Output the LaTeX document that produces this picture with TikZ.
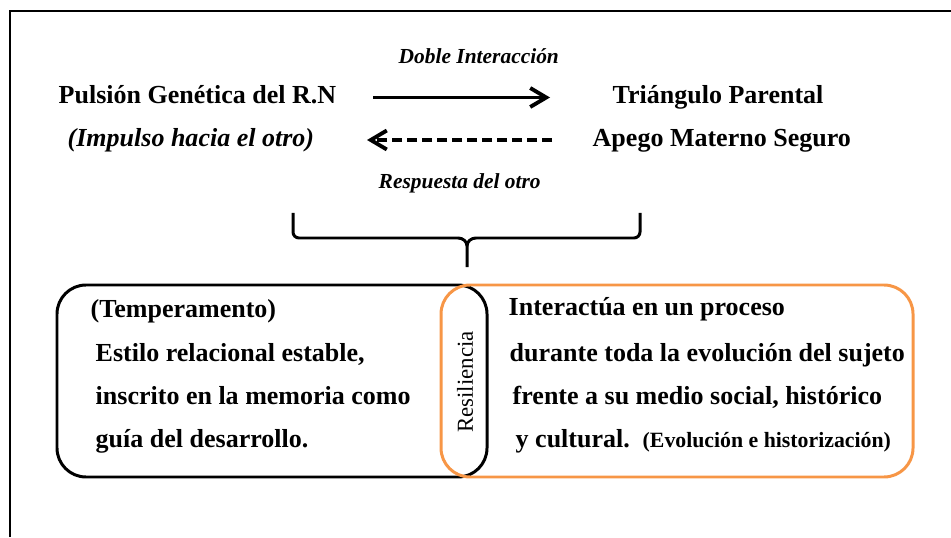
\documentclass[tikz,border=0pt]{standalone}
\usepackage{fontspec}
\setmainfont{Liberation Serif}
\usetikzlibrary{arrows.meta}

\definecolor{naranja}{HTML}{F79646}

\begin{document}
\begin{tikzpicture}[
  txt/.style={anchor=base west,inner sep=0pt,font=\fontsize{7.4}{9}\selectfont\bfseries},
  itxt/.style={txt,font=\fontsize{7.4}{9}\selectfont\bfseries\itshape},
  stxt/.style={txt,font=\fontsize{6.1}{8}\selectfont\bfseries\itshape},
  arr/.style={line width=1.1pt,-{Straight Barb[length=0.16cm,width=0.19cm]}},
  caja/.style={line width=0.85pt,rounded corners=0.29cm}
]
\useasboundingbox (0,0) rectangle (9.51,5.37);
\draw[line width=0.55pt] (0.10,0) -- (0.10,5.26) -- (9.51,5.26);

\node[stxt] (DI) at (3.98,4.73) {Doble Interacción};
\node[txt] (PG) at (0.58,4.33) {Pulsión Genética del R.N};
\node[itxt] (IH) at (0.67,3.90) {(Impulso hacia el otro)};
\node[txt] (TP) at (6.12,4.33) {Triángulo Parental};
\node[txt] (AM) at (5.92,3.90) {Apego Materno Seguro};
\node[stxt] (RO) at (3.78,3.48) {Respuesta del otro};

\coordinate (a1) at (3.73,4.395);
\coordinate (a2) at (5.50,4.395);
\coordinate (b1) at (5.52,3.97);
\coordinate (b2) at (3.67,3.97);
\draw[arr] (a1) -- (a2);
\draw[arr,dash pattern=on 0.10cm off 0.05cm] (b1) -- (b2);

% llave
\draw[line width=0.85pt,rounded corners=0.06cm] (2.93,3.24) -- (2.93,2.99) -- (4.58,2.99);
\draw[line width=0.85pt,rounded corners=0.06cm] (4.76,2.99) -- (6.40,2.99) -- (6.40,3.24);
\draw[line width=0.85pt] (4.58,2.99) to[out=0,in=90] (4.67,2.91) -- (4.67,2.70);
\draw[line width=0.85pt] (4.76,2.99) to[out=180,in=90] (4.67,2.91);

\draw[caja] (0.57,0.60) rectangle (4.87,2.52);
\draw[caja,naranja] (4.41,0.60) rectangle (9.13,2.52);

\node[rotate=90,inner sep=0pt,font=\fontsize{6.5}{8}\selectfont] (RS) at (4.65,1.55) {Resiliencia};

\node[txt] (T1) at (0.90,2.20) {(Temperamento)};
\node[txt] (T2) at (0.95,1.76) {Estilo relacional estable,};
\node[txt] (T3) at (0.95,1.33) {inscrito en la memoria como};
\node[txt] (T4) at (0.95,0.90) {guía del desarrollo.};

\node[txt] (R1) at (5.08,2.21) {Interactúa en un proceso};
\node[txt] (R2) at (5.09,1.76) {durante toda la evolución del sujeto};
\node[txt] (R3) at (5.12,1.33) {frente a su medio social, histórico};
\node[txt] (R4) at (5.15,0.90) {y cultural.};
\node[txt,font=\fontsize{6.2}{8}\selectfont\bfseries] (R5) at (6.42,0.90) {(Evolución e historización)};

\end{tikzpicture}
\end{document}
